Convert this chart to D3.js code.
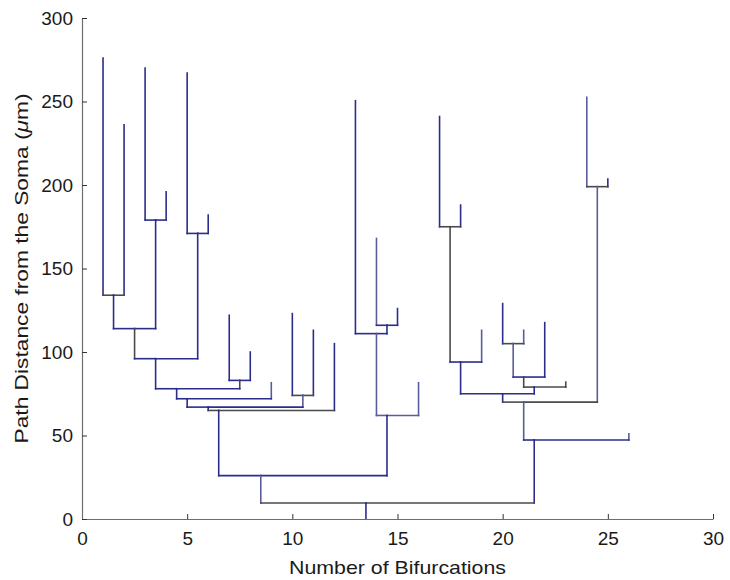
<!DOCTYPE html>
<html>
<head>
<meta charset="utf-8">
<script src="https://cdn.jsdelivr.net/npm/d3@7"></script>
<style>
  body { margin: 0; background: #fff; }
  text { font-family: "Liberation Sans", Arial, sans-serif; }
</style>
</head>
<body>
<svg id="chart" width="730" height="580"></svg>
<script>
// ---- data ----
const nodeIds = ["1","2","A","3","4","B","C","5","6","D","E","7","8","F","G","9","H","10","11","I","J","12","K","13","14","15","L","M","16","N","O","17","18","P","19","Q","20","21","R","22","S","23","T","U","24","25","V","W","26","X","root"];
const nodeParents = ["A","A","C","B","B","C","E","D","D","E","G","F","F","G","H","H","J","I","I","J","K","K","O","M","L","L","M","N","N","O","root","P","P","Q","Q","U","R","R","S","S","T","T","U","W","V","V","W","X","X","root",null];
// bifurcation index (x) of each node
const nodeBifurcation = [1,2,1.5,3,4,3.5,2.5,5,6,5.5,3.5,7,8,7.5,4.5,9,5,10,11,10.5,6,12,6.5,13,14,15,14.5,14,16,14.5,8.5,17,18,17.5,19,18,20,21,20.5,22,21,23,21.5,20,24,25,24.5,21,26,21.5,13.5];
// path distance from the soma (µm) of each node
const nodeDistance = [276,236,134,270,196,179,114,267,182,171,96,122,100,83,78,81.6,72,123,113,74,67,105,65,250.5,168,126,116,111,81.6,62,26,241,188,175,113,94,129,113,105,117.6,85,82,79,75,252.5,203.5,199,70,51,47.3,9.6];
// colour class of vertical stem and horizontal link segment (b = blue, s = slate, g = grey)
const stemClass = ["b","b","b","b","b","b","g","b","b","b","b","b","b","g","b","s","b","b","b","s","b","b","b","b","s","b","b","s","s","b","s","b","b","g","s","b","b","s","s","b","g","g","b","b","s","b","s","s","s","b","b"];
const linkClass = ["g","g","b","b","b","b","b","b","b","b","b","b","b","b","b","b","b","g","g","b","g","g","b","b","b","b","b","s","s","b","g","g","g","b","b","b","g","g","b","b","g","g","b","g","g","g","g","b","b","g",null];
const xTicks = [0,5,10,15,20,25,30];
const yTicks = [0,50,100,150,200,250,300];

const colors = { b: "#2a2d8c", s: "#585c9a", g: "#4a4a4a" };

// ---- layout ----
const svg = d3.select("#chart");
const margin = { left: 82, top: 18, right: 17, bottom: 61 };
const W = 730, H = 580;
const x = d3.scaleLinear().domain([0, 30]).range([margin.left, W - margin.right]);
const y = d3.scaleLinear().domain([0, 300]).range([H - margin.bottom, margin.top]);

const byId = {};
nodeIds.forEach((id, i) => byId[id] = i);

const g = svg.append("g");
const segs = [];
nodeIds.forEach((id, i) => {
  const p = nodeParents[i];
  const py = p === null ? 0 : nodeDistance[byId[p]];
  segs.push({ x1: nodeBifurcation[i], y1: nodeDistance[i], x2: nodeBifurcation[i], y2: py, c: stemClass[i] });
  if (p !== null) {
    segs.push({ x1: nodeBifurcation[i], y1: py, x2: nodeBifurcation[byId[p]], y2: py, c: linkClass[i] });
  }
});
g.selectAll("line.seg").data(segs).join("line")
  .attr("class", "seg")
  .attr("x1", d => x(d.x1)).attr("y1", d => y(d.y1))
  .attr("x2", d => x(d.x2)).attr("y2", d => y(d.y2))
  .attr("stroke", d => colors[d.c])
  .attr("stroke-width", 1.6)
  .attr("stroke-linecap", "square");

// ---- axes ----
const axisColor = "#6e6e6e";
const xAxis = svg.append("g").attr("transform", `translate(0,${y(0)})`)
  .call(d3.axisBottom(x).tickValues(xTicks).tickSize(0).tickPadding(12).tickFormat(d3.format("d")));
xAxis.select(".domain").attr("stroke", axisColor).attr("stroke-width", 1.2);
xAxis.selectAll(".tick").append("line").attr("y1", 0).attr("y2", -5).attr("stroke", "#333").attr("stroke-width", 1);
xAxis.selectAll("text").attr("font-size", 19).attr("fill", "#1a1a1a").attr("dy", "0.75em");

const yAxis = svg.append("g").attr("transform", `translate(${x(0)},0)`)
  .call(d3.axisLeft(y).tickValues(yTicks).tickSize(0).tickPadding(9).tickFormat(d3.format("d")));
yAxis.select(".domain").attr("stroke", axisColor).attr("stroke-width", 1.2);
yAxis.selectAll(".tick").append("line").attr("x1", 0).attr("x2", 5).attr("stroke", "#333").attr("stroke-width", 1);
yAxis.selectAll("text").attr("font-size", 19).attr("fill", "#1a1a1a");

svg.append("text")
  .attr("x", (x(0) + x(30)) / 2).attr("y", 574)
  .attr("text-anchor", "middle").attr("font-size", 19).attr("fill", "#1a1a1a")
  .attr("textLength", 217).attr("lengthAdjust", "spacingAndGlyphs")
  .text("Number of Bifurcations");

const yl = svg.append("text")
  .attr("transform", `translate(28,${(y(0) + y(300)) / 2}) rotate(-90)`)
  .attr("text-anchor", "middle").attr("font-size", 19).attr("fill", "#1a1a1a")
  .attr("textLength", 350).attr("lengthAdjust", "spacingAndGlyphs");
yl.append("tspan").text("Path Distance from the Soma (");
yl.append("tspan").attr("font-style", "italic").text("\u03bc");
yl.append("tspan").text("m)");
</script>
</body>
</html>
